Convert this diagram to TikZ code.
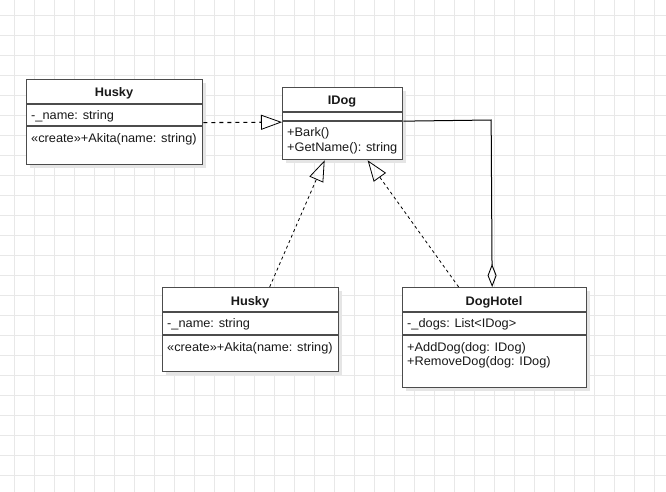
\documentclass[tikz,border=0pt]{standalone}
\usepackage{fontspec}
\setmainfont{Liberation Sans}[FakeStretch=1.03]
\usetikzlibrary{arrows.meta,calc,shadows}
\begin{document}
\begin{tikzpicture}[x=1pt,y=-1pt,
  gridline/.style={draw=black!9,line width=0.8pt},
  classbox/.style={draw=black!70,line width=1.3pt,fill=white,rectangle,anchor=north west,inner sep=0pt,
    drop shadow={shadow xshift=3.5pt,shadow yshift=-3.5pt,fill=black!10,opacity=1}},
  divider/.style={draw=black!70,line width=1.3pt},
  ttl/.style={anchor=base,inner sep=0pt,font=\fontsize{12.4}{14}\selectfont\bfseries,text=black!90},
  txt/.style={anchor=base west,inner sep=0pt,font=\fontsize{12.4}{14}\selectfont,text=black!90},
  realize/.style={draw=black,line width=0.8pt,dash pattern=on 3pt off 3pt,-{Triangle[open,length=21pt,width=15pt,line width=0.8pt]}},
  aggr/.style={draw=black,line width=1pt,{Diamond[open,length=23pt,width=9pt,line width=0.9pt]}-}]
\useasboundingbox (0,0) rectangle (666,492);
\fill[white] (0,0) rectangle (666,492);
\foreach \x in {14,34,...,654} \draw[gridline] (\x,0) -- (\x,492);
\foreach \y in {15,35,...,475} \draw[gridline] (0,\y) -- (666,\y);

% Husky (top)
\node[classbox,minimum width=176pt,minimum height=85pt] (husky1) at (26,79) {};
\draw[divider] (26,104) -- (202,104);
\draw[divider] (26,126) -- (202,126);
\node[ttl] (husky1t) at (114,96.5) {Husky};
\node[txt] (husky1a) at (31,119.3) {-\_name: string};
\node[txt] (husky1m) at (31,142.3) {«create»+Akita(name: string)};

% IDog
\node[classbox,minimum width=120pt,minimum height=72pt] (idog) at (282,87) {};
\draw[divider] (282,112) -- (402,112);
\draw[divider] (282,121) -- (402,121);
\node[ttl] (idogt) at (342,105) {IDog};
\node[txt] (idogm1) at (287,136.3) {+Bark()};
\node[txt] (idogm2) at (287,151.8) {+GetName(): string};

% Husky (bottom)
\node[classbox,minimum width=176pt,minimum height=84pt] (husky2) at (162,287) {};
\draw[divider] (162,312) -- (338,312);
\draw[divider] (162,335) -- (338,335);
\node[ttl] (husky2t) at (250,305) {Husky};
\node[txt] (husky2a) at (167,327.3) {-\_name: string};
\node[txt] (husky2m) at (167,351) {«create»+Akita(name: string)};

% DogHotel
\node[classbox,minimum width=184pt,minimum height=100pt] (hotel) at (402,287) {};
\draw[divider] (402,312) -- (586,312);
\draw[divider] (402,335) -- (586,335);
\node[ttl] (hotelt) at (494,305) {DogHotel};
\node[txt] (hotela) at (407,327.3) {-\_dogs: List<IDog>};
\node[txt] (hotelm1) at (407,351) {+AddDog(dog: IDog)};
\node[txt] (hotelm2) at (407,365.3) {+RemoveDog(dog: IDog)};

% connectors
\draw[realize,line width=1.1pt,dash pattern=on 4pt off 4pt] ($(husky1.east)+(0,0.5)$) -- ($(idog.west)+(0,-1.5)$);
\draw[realize] ($(husky2.north)+(19,0)$) -- ($(idog.south)+(-18,0)$);
\draw[realize] ($(hotel.north)+(-36,0)$) -- ($(idog.south)+(25,0)$);
\draw[aggr] ($(hotel.north)+(-2.5,0)$) -- ($(hotel.north)+(-3.5,-167)$) -- ($(idog.east)+(0,-2.5)$);
\end{tikzpicture}
\end{document}
